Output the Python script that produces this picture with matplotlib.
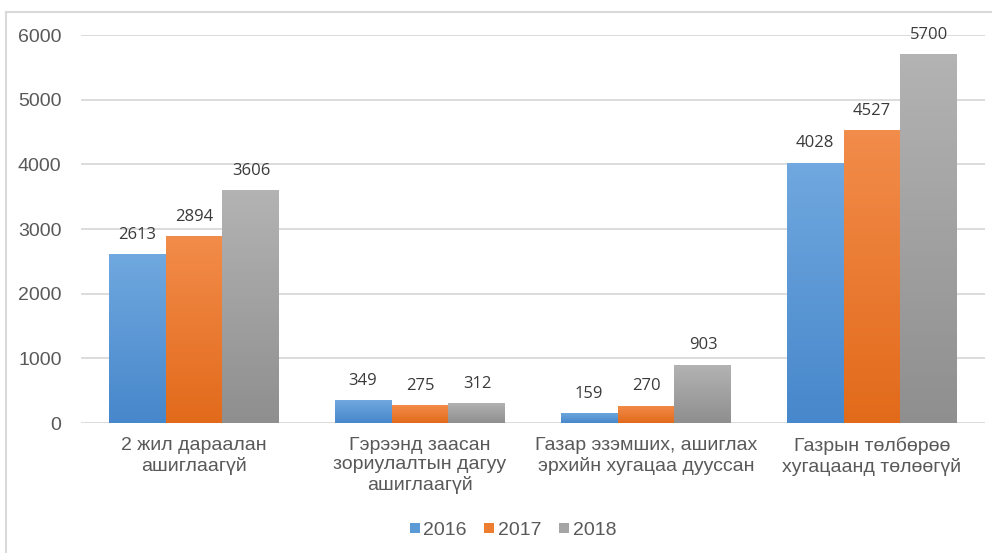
import numpy as np
import matplotlib
matplotlib.use("Agg")
from matplotlib import pyplot as plt
from matplotlib.colors import LinearSegmentedColormap
from matplotlib.lines import Line2D

categories = [
    "2 жил дараалан\nашиглаагүй",
    "Гэрээнд заасан\nзориулалтын дагуу\nашиглаагүй",
    "Газар эзэмших, ашиглах\nэрхийн хугацаа дууссан",
    "Газрын төлбөрөө\nхугацаанд төлөөгүй",
]
years = ["2016", "2017", "2018"]
v2016 = [2613, 349, 159, 4028]
v2017 = [2894, 275, 270, 4527]
v2018 = [3606, 312, 903, 5700]

# top / bottom colours of each series gradient
grad = [("#70a8df", "#4787cb"), ("#f28c4a", "#e26a1b"), ("#b3b3b3", "#8f8f8f")]
legend_col = ["#5b9bd5", "#ed7d31", "#a5a5a5"]

plt.rcParams["font.family"] = ["Liberation Sans", "DejaVu Sans"]

fig = plt.figure(figsize=(9.92, 5.53), dpi=100)
ax = fig.add_axes([81 / 992, 1 - 423 / 553, (985 - 81) / 992, (423 - 35) / 553])

x = np.arange(len(categories))
w = 0.252
series = [v2016, v2017, v2018]
handles = []
for i, vals in enumerate(series):
    bars = ax.bar(x + (i - 1) * w, vals, w, color=legend_col[i], zorder=2, linewidth=0)
    cmap = LinearSegmentedColormap.from_list("g%d" % i, [grad[i][1], grad[i][0]])
    for b, v in zip(bars, vals):
        x0 = b.get_x()
        im = ax.imshow(np.linspace(0, 1, 64).reshape(-1, 1), cmap=cmap, origin="lower",
                       extent=[x0, x0 + w, 0, v], aspect="auto", zorder=3)
        im.set_clip_path(b)
        ax.annotate(str(v), (x0 + w / 2, v), xytext=(0, 8), textcoords="offset points",
                    ha="center", va="bottom", fontsize=12, color="#3a3a3a",
                    family=["Open Sans", "DejaVu Sans"], zorder=4)
    handles.append(Line2D([], [], marker="s", linestyle="none", markersize=7,
                          markerfacecolor=legend_col[i], markeredgewidth=0))

ax.set_xlim(-0.5, 3.5)
ax.set_ylim(0, 6000)
ax.set_yticks(range(0, 6001, 1000))
ax.set_xticks(x)
ax.set_xticklabels(categories, fontsize=14, color="#595959", linespacing=1.2)
ax.tick_params(axis="y", labelsize=14, labelcolor="#595959", length=0, pad=14)
ax.tick_params(axis="x", length=0, pad=10)
ax.yaxis.grid(True, color="#d9d9d9", linewidth=1.3, zorder=0)
ax.set_axisbelow(True)
for s in ax.spines.values():
    s.set_visible(False)

fig.legend(handles, years, loc="center", bbox_to_anchor=(512 / 992, 1 - 530 / 553),
           ncol=3, frameon=False, fontsize=14, handlelength=0.7, handletextpad=0.1,
           columnspacing=0.8, labelcolor="#595959")

# outer chart border (only top and left visible in the crop)
fig.add_artist(Line2D([6 / 992, 6 / 992], [0, 1 - 12 / 553], color="#d9d9d9", linewidth=1.5))
fig.add_artist(Line2D([6 / 992, 1], [1 - 12 / 553, 1 - 12 / 553], color="#d9d9d9", linewidth=1.5))

fig.savefig("out.png", dpi=100)
